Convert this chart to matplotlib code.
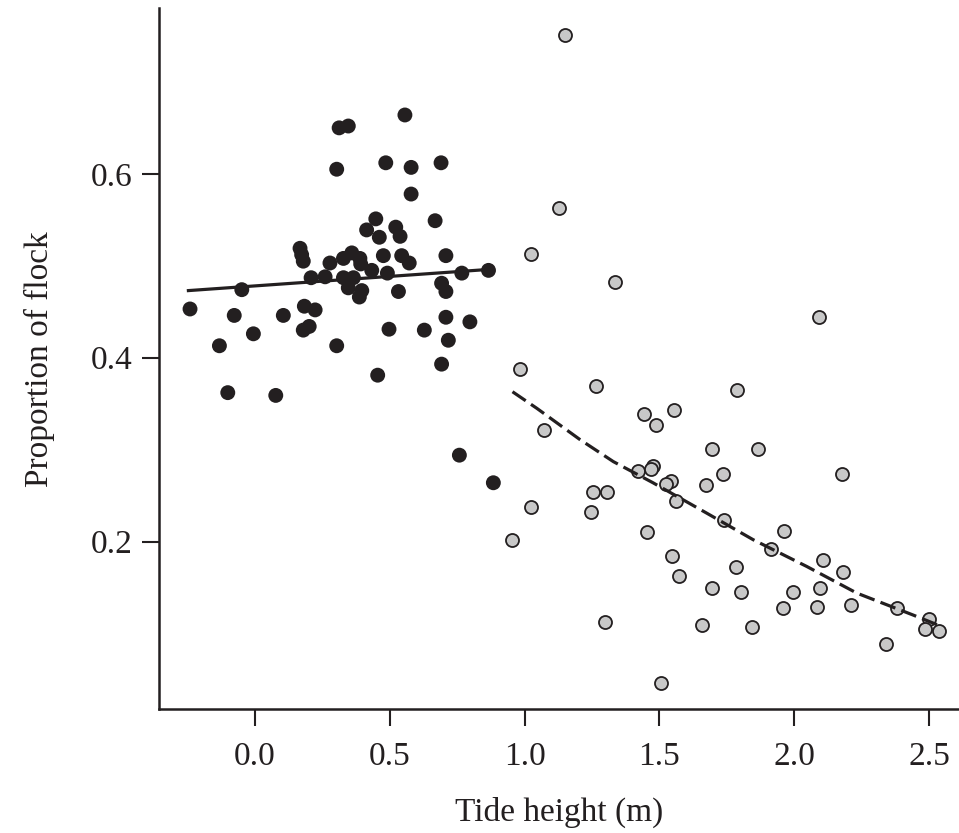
import matplotlib
matplotlib.use('Agg')
import matplotlib.pyplot as plt

# low tide (black) observations
low_x = [0.556, 0.312, 0.346, 0.303, 0.485, 0.579, 0.690, 0.579, 0.448, 0.668,
         0.414, 0.522, 0.461, 0.538, 0.167, 0.173, 0.179, 0.278, 0.328, 0.359,
         0.389, 0.392, 0.476, 0.544, 0.572, 0.708, 0.208, 0.260, 0.328, 0.365,
         0.433, 0.491, 0.767, 0.866, -0.049, 0.346, 0.396, 0.387, 0.532, 0.692,
         0.708, -0.241, -0.077, 0.105, 0.183, 0.223, 0.708, 0.797, 0.179, 0.201,
         -0.006, 0.497, 0.628, 0.717, -0.132, 0.303, 0.692, 0.455, -0.101, 0.077,
         0.758, 0.884]
low_y = [0.664, 0.650, 0.652, 0.605, 0.612, 0.607, 0.612, 0.578, 0.551, 0.549,
         0.539, 0.542, 0.531, 0.532, 0.519, 0.512, 0.505, 0.503, 0.508, 0.514,
         0.508, 0.502, 0.511, 0.511, 0.503, 0.511, 0.487, 0.488, 0.487, 0.487,
         0.495, 0.492, 0.492, 0.495, 0.474, 0.476, 0.473, 0.466, 0.472, 0.481,
         0.472, 0.453, 0.446, 0.446, 0.456, 0.452, 0.444, 0.439, 0.430, 0.434,
         0.426, 0.431, 0.430, 0.419, 0.413, 0.413, 0.393, 0.381, 0.362, 0.359,
         0.294, 0.264]

# high tide (grey) observations
high_x = [1.150, 1.128, 1.024, 1.335, 2.093, 0.983, 1.265, 1.789, 1.444, 1.555,
          1.487, 1.072, 1.694, 1.867, 1.476, 1.419, 1.470, 1.735, 2.176, 1.542,
          1.523, 1.673, 1.252, 1.307, 1.560, 1.024, 1.246, 1.741, 0.955, 1.453,
          1.962, 1.914, 1.548, 2.106, 1.783, 2.182, 1.574, 1.694, 1.803, 1.994,
          2.097, 1.959, 2.086, 2.210, 2.381, 1.298, 1.659, 1.845, 2.501, 2.485,
          2.535, 2.339, 1.506]
high_y = [0.751, 0.563, 0.513, 0.482, 0.444, 0.388, 0.369, 0.365, 0.339, 0.343,
          0.327, 0.321, 0.301, 0.301, 0.282, 0.277, 0.279, 0.274, 0.274, 0.266,
          0.263, 0.262, 0.254, 0.254, 0.244, 0.238, 0.232, 0.224, 0.202, 0.210,
          0.212, 0.192, 0.184, 0.180, 0.172, 0.167, 0.163, 0.149, 0.145, 0.145,
          0.149, 0.128, 0.129, 0.131, 0.128, 0.113, 0.109, 0.107, 0.116, 0.105,
          0.103, 0.089, 0.046]

# fitted lines
low_fit_x = [-0.247, 0.866]
low_fit_y = [0.473, 0.496]
high_fit_x = [0.955, 1.045, 1.205, 1.329, 1.476, 1.675, 1.848, 2.046, 2.232, 2.442, 2.535]
high_fit_y = [0.363, 0.345, 0.311, 0.287, 0.264, 0.231, 0.202, 0.173, 0.144, 0.120, 0.109]

ink = '#231f20'
plt.rcParams['font.family'] = 'Liberation Serif'

fig = plt.figure(figsize=(9.59, 8.33), dpi=100)
ax = fig.add_axes([0.1661, 0.1485, 0.8339, 0.8415])

ax.scatter(low_x, low_y, s=115, color=ink, edgecolors='none', zorder=2)
ax.scatter(high_x, high_y, s=88, facecolor='#c8c8c8', edgecolors=ink, linewidths=1.3, zorder=2)
ax.plot(low_fit_x, low_fit_y, color=ink, linewidth=2.3, zorder=3)
ax.plot(high_fit_x, high_fit_y, color=ink, linewidth=2.3, dashes=(5, 2), zorder=3)

ax.set_xlim(-0.355, 2.611)
ax.set_ylim(0.0176, 0.780)
ax.set_xticks([0.0, 0.5, 1.0, 1.5, 2.0, 2.5])
ax.set_xticklabels(['0.0', '0.5', '1.0', '1.5', '2.0', '2.5'])
ax.set_yticks([0.2, 0.4, 0.6])
ax.set_yticklabels(['0.2', '0.4', '0.6'])

for side in ['top', 'right']:
    ax.spines[side].set_visible(False)
for side in ['left', 'bottom']:
    ax.spines[side].set_linewidth(1.8)
    ax.spines[side].set_color(ink)

ax.tick_params(axis='both', length=12, width=1.5, color=ink, labelsize=24, labelcolor=ink)
ax.tick_params(axis='x', pad=11)
ax.tick_params(axis='y', pad=7)

ax.set_xlabel('Tide height (m)', fontsize=24, color=ink, labelpad=18)
ax.set_ylabel('Proportion of flock', fontsize=24, color=ink, labelpad=26)

fig.savefig('out.png', dpi=100)
